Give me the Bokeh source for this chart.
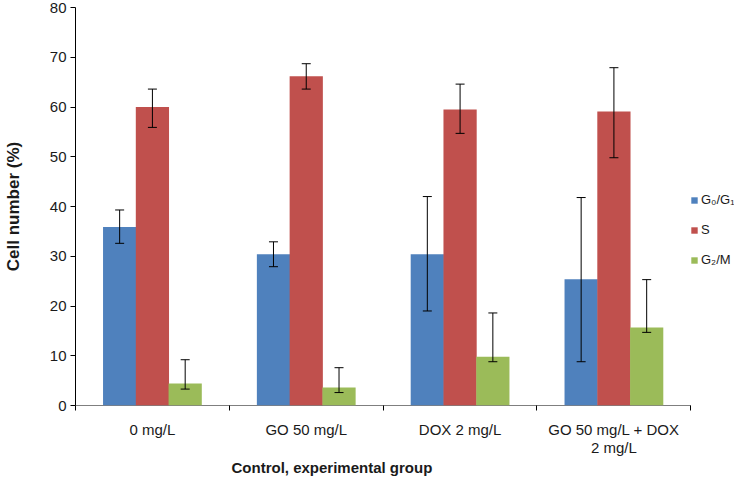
from bokeh.plotting import figure
from bokeh.models import (Range1d, FixedTicker, ColumnDataSource, Whisker, TeeHead,
                          Legend, LegendItem, Title)
from bokeh.transform import dodge
from bokeh.embed import file_html
from bokeh.resources import INLINE

# ---- data ----
categories = ["0 mg/L", "GO 50 mg/L", "DOX 2 mg/L", "GO 50 mg/L + DOX\n2 mg/L"]
series_names = ["G\u2080/G\u2081", "S", "G\u2082/M"]

g0g1 = [35.9, 30.4, 30.4, 25.4]
g0g1_lo = [32.6, 27.9, 19.0, 8.8]
g0g1_hi = [39.3, 32.9, 42.0, 41.8]

s_phase = [60.0, 66.2, 59.5, 59.1]
s_lo = [55.9, 63.6, 54.7, 49.8]
s_hi = [63.6, 68.7, 64.6, 67.9]

g2m = [4.4, 3.6, 9.8, 15.7]
g2m_lo = [3.3, 2.6, 8.8, 14.7]
g2m_hi = [9.2, 7.6, 18.6, 25.3]

y_ticks = [0, 10, 20, 30, 40, 50, 60, 70, 80]
colors = ["#4F81BD", "#C0504D", "#9BBB59"]

FONT = "Liberation Sans"
TXT = "#1a1a1a"

n = len(categories)
centers = [i + 0.5 for i in range(n)]
boundaries = list(range(n + 1))

# layout constants (pixels)
W, H = 734, 476
LEFT, RIGHT, TOP, BOTTOM = 70, 0, 7, 71
CAT_PX = 155.0                       # pixel width of one category
x_end = (W - LEFT - RIGHT) / CAT_PX  # frame extends to the right to host the legend

p = figure(width=W, height=H, output_backend="svg", toolbar_location=None,
           x_range=Range1d(0, x_end), y_range=Range1d(0, 80),
           min_border_left=LEFT, min_border_right=RIGHT, min_border_top=TOP,
           min_border_bottom=BOTTOM)
p.xgrid.visible = False
p.ygrid.visible = False
p.outline_line_color = None
p.background_fill_color = "white"
p.border_fill_color = "white"

# x axis baseline only across the categories
p.segment(x0=[0], x1=[n], y0=[0], y1=[0], line_color="black", line_width=1)

series = [(g0g1, g0g1_lo, g0g1_hi), (s_phase, s_lo, s_hi), (g2m, g2m_lo, g2m_hi)]
offsets = [-0.213, 0.0, 0.213]
bar_w = 0.216

bar_renderers = []
for (vals, lo, hi), off, col, name in zip(series, offsets, colors, series_names):
    src = ColumnDataSource(dict(x=centers, top=vals, lo=lo, hi=hi))
    r = p.vbar(x=dodge("x", off, range=p.x_range), top="top", bottom=0, width=bar_w,
               source=src, fill_color=col, line_color=None)
    bar_renderers.append((name, r))
    w = Whisker(base=dodge("x", off, range=p.x_range), upper="hi", lower="lo",
                source=src, line_color="black", line_width=1, level="overlay",
                upper_head=TeeHead(size=9, line_color="black", line_width=1),
                lower_head=TeeHead(size=9, line_color="black", line_width=1))
    p.add_layout(w)

# x axis: labels at category centres, tick marks at category boundaries
xa = p.xaxis[0]
xa.ticker = FixedTicker(ticks=centers, minor_ticks=boundaries)
xa.major_label_overrides = {c: lab for c, lab in zip(centers, categories)}
xa.major_tick_line_color = None
xa.major_tick_out = 0
xa.major_tick_in = 0
xa.minor_tick_out = 5
xa.minor_tick_in = 0
xa.minor_tick_line_color = "black"
xa.axis_line_color = None
xa.major_label_text_font = FONT
xa.major_label_text_font_size = "15px"
xa.major_label_text_line_height = 1.1
xa.major_label_text_color = TXT
xa.major_label_standoff = 10

title_x = Title(text="Control, experimental group", align="left", offset=156,
                text_font=FONT, text_font_size="15px", text_font_style="bold",
                text_color=TXT, standoff=-5)
p.add_layout(title_x, "below")

ya = p.yaxis[0]
ya.ticker = FixedTicker(ticks=y_ticks, minor_ticks=[])
ya.major_tick_out = 5
ya.major_tick_in = 0
ya.major_tick_line_color = "black"
ya.axis_line_color = "black"
ya.major_label_text_font = FONT
ya.major_label_text_font_size = "15px"
ya.major_label_text_color = TXT
ya.major_label_standoff = 4
ya.axis_label = "Cell number (%)"
ya.axis_label_text_font = FONT
ya.axis_label_text_font_size = "17px"
ya.axis_label_text_font_style = "bold"
ya.axis_label_text_color = TXT
ya.axis_label_standoff = 24

legend = Legend(items=[LegendItem(label=nm, renderers=[r]) for nm, r in bar_renderers],
                location=(n * CAT_PX - 5, 138), orientation="vertical",
                glyph_width=8, glyph_height=8, label_standoff=3,
                label_height=15, spacing=15, padding=0, margin=0,
                border_line_color=None, background_fill_alpha=0,
                label_text_font=FONT, label_text_font_size="13px",
                label_text_color=TXT)
p.add_layout(legend)

open("out.html", "w").write(file_html(p, INLINE))
